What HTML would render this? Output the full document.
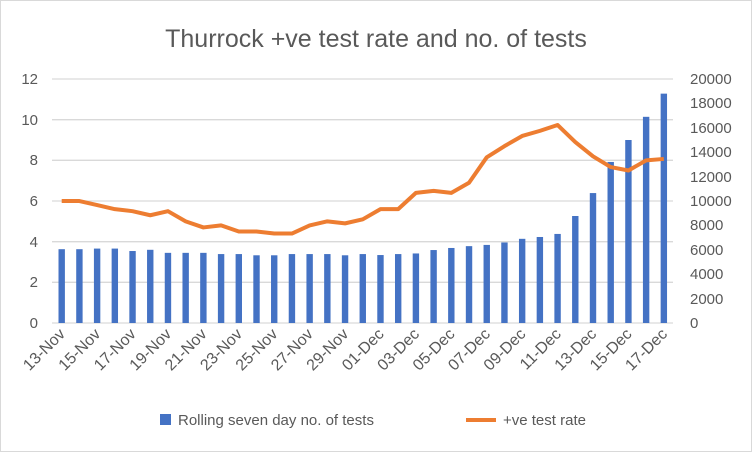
<!DOCTYPE html>
<html><head><meta charset="utf-8"><style>
html,body{margin:0;padding:0;background:#fff}
svg{display:block;font-family:"Liberation Sans",sans-serif}
</style></head><body>
<svg id="c" width="752" height="452" viewBox="0 0 752 452">
<rect x="0.5" y="0.5" width="751" height="451" fill="#fff" stroke="#d9d9d9"/>
<text x="376" y="47" text-anchor="middle" font-size="25" fill="#595959">Thurrock +ve test rate and no. of tests</text>
<g stroke="#d9d9d9" stroke-width="1.3" id="grid">
<line x1="52" x2="673" y1="79" y2="79"/><line x1="52" x2="673" y1="119.7" y2="119.7"/>
<line x1="52" x2="673" y1="160.3" y2="160.3"/><line x1="52" x2="673" y1="201" y2="201"/>
<line x1="52" x2="673" y1="241.7" y2="241.7"/><line x1="52" x2="673" y1="282.3" y2="282.3"/>
<line x1="52" x2="673" y1="323" y2="323"/>
</g>
<g font-size="15" fill="#595959" text-anchor="end">
<text x="38" y="84">12</text><text x="38" y="125">10</text><text x="38" y="165">8</text>
<text x="38" y="206">6</text><text x="38" y="247">4</text><text x="38" y="287">2</text><text x="38" y="328">0</text>
</g>
<g font-size="15" fill="#595959">
<text x="690" y="84">20000</text><text x="690" y="108">18000</text><text x="690" y="133">16000</text>
<text x="690" y="157">14000</text><text x="690" y="182">12000</text><text x="690" y="206">10000</text>
<text x="690" y="230">8000</text><text x="690" y="255">6000</text><text x="690" y="279">4000</text>
<text x="690" y="304">2000</text><text x="690" y="328">0</text>
</g>
<g id="bars" fill="#4472c4"></g>
<polyline id="line" fill="none" stroke="#ed7d31" stroke-width="4" stroke-linejoin="round"/>
<g font-size="16" fill="#595959" text-anchor="end">
<text transform="translate(66,335) rotate(-45)">13-Nov</text>
<text transform="translate(101.4,335) rotate(-45)">15-Nov</text>
<text transform="translate(136.8,335) rotate(-45)">17-Nov</text>
<text transform="translate(172.3,335) rotate(-45)">19-Nov</text>
<text transform="translate(207.7,335) rotate(-45)">21-Nov</text>
<text transform="translate(243.1,335) rotate(-45)">23-Nov</text>
<text transform="translate(278.5,335) rotate(-45)">25-Nov</text>
<text transform="translate(313.9,335) rotate(-45)">27-Nov</text>
<text transform="translate(349.4,335) rotate(-45)">29-Nov</text>
<text transform="translate(384.8,335) rotate(-45)">01-Dec</text>
<text transform="translate(420.2,335) rotate(-45)">03-Dec</text>
<text transform="translate(455.6,335) rotate(-45)">05-Dec</text>
<text transform="translate(491,335) rotate(-45)">07-Dec</text>
<text transform="translate(526.5,335) rotate(-45)">09-Dec</text>
<text transform="translate(561.9,335) rotate(-45)">11-Dec</text>
<text transform="translate(597.3,335) rotate(-45)">13-Dec</text>
<text transform="translate(632.7,335) rotate(-45)">15-Dec</text>
<text transform="translate(668.1,335) rotate(-45)">17-Dec</text>
</g>
<rect x="160" y="414" width="11" height="11" fill="#4472c4"/>
<text x="178" y="425" font-size="15" fill="#595959">Rolling seven day no. of tests</text>
<line x1="466" x2="496" y1="420" y2="420" stroke="#ed7d31" stroke-width="4"/>
<text x="503" y="425" font-size="15" fill="#595959">+ve test rate</text>
</svg>
<script>
var rate=[6,6,5.8,5.6,5.5,5.3,5.5,5.0,4.7,4.8,4.5,4.5,4.4,4.4,4.8,5.0,4.9,5.1,5.6,5.6,6.4,6.5,6.4,6.9,8.15,8.7,9.2,9.45,9.74,8.9,8.2,7.67,7.5,8.0,8.07];
var tests=[6.05,6.05,6.1,6.1,5.9,6.0,5.75,5.75,5.75,5.65,5.65,5.55,5.55,5.65,5.65,5.65,5.55,5.65,5.57,5.65,5.7,5.98,6.15,6.3,6.4,6.6,6.9,7.05,7.3,8.77,10.65,13.2,15.0,16.9,18.8];
var g=document.getElementById('bars'),pts=[];
for(var i=0;i<35;i++){var x=61.7+17.71*i;
var h=tests[i]*12.2;var r=document.createElementNS('http://www.w3.org/2000/svg','rect');
r.setAttribute('x',x-3.2);r.setAttribute('y',323-h);r.setAttribute('width',6.4);r.setAttribute('height',h);g.appendChild(r);
pts.push(x+','+(323-rate[i]*20.33));}
document.getElementById('line').setAttribute('points',pts.join(' '));
</script>
</body></html>
